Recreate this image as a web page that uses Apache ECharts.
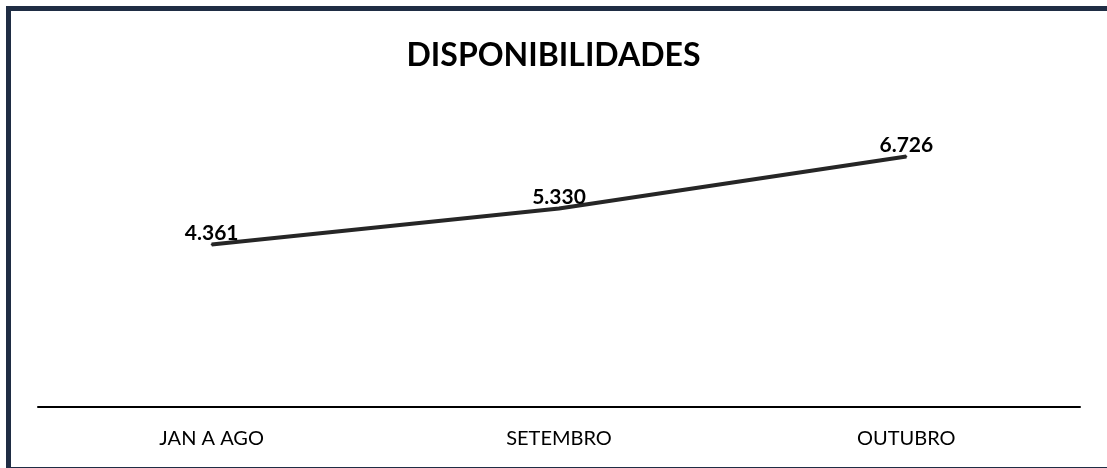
<!DOCTYPE html>
<html><head><meta charset="utf-8">
<script src="https://cdn.jsdelivr.net/npm/echarts@6/dist/echarts.min.js"></script>
<style>html,body{margin:0;padding:0;background:#fff}#c{width:1107px;height:468px}</style>
</head><body><div id="c"></div>
<script>
const title = 'DISPONIBILIDADES';
const categories = ['JAN A AGO', 'SETEMBRO', 'OUTUBRO'];
const values = [4.361, 5.330, 6.726];

const chart = echarts.init(document.getElementById('c'));
chart.setOption({
  animation: false,
  backgroundColor: '#ffffff',
  title: {
    text: title, left: 'center', top: 35,
    textStyle: { fontFamily: 'Lato', fontWeight: 'bold', fontSize: 32, color: '#000' }
  },
  grid: { left: 38, right: 27, top: 109, bottom: 61 },
  xAxis: {
    type: 'category', data: categories, boundaryGap: true,
    axisLine: { lineStyle: { color: '#000', width: 2 } },
    axisTick: { show: false },
    axisLabel: { fontFamily: 'Lato', fontSize: 20, color: '#000', margin: 22 }
  },
  yAxis: {
    type: 'value', min: 0, max: 8, show: false, splitLine: { show: false }
  },
  series: [{
    type: 'line', data: values, symbol: 'circle', symbolSize: 2, showSymbol: true,
    itemStyle: { color: '#262626', borderWidth: 0 },
    lineStyle: { color: '#262626', width: 4 },
    label: {
      show: true, position: 'top', distance: 0, offset: [1, 2],
      formatter: p => p.value.toFixed(3),
      fontFamily: 'Lato', fontWeight: 'bold', fontSize: 21, color: '#000'
    },
    labelLayout: { hideOverlap: false }
  }],
  graphic: [{
    type: 'rect', silent: true,
    shape: { x: 8.5, y: 8.5, width: 1110, height: 461 },
    style: { fill: 'none', stroke: '#1f2d44', lineWidth: 5 }
  }]
});
</script></body></html>
